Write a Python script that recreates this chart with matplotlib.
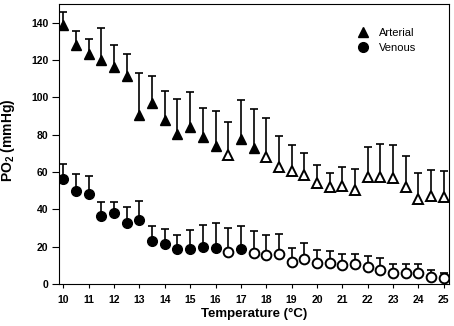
import numpy as np
import matplotlib
matplotlib.use("Agg")
import matplotlib.pyplot as plt
from matplotlib.lines import Line2D

plt.rcParams['font.family'] = ['Liberation Sans', 'DejaVu Sans']
plt.rcParams['mathtext.fontset'] = 'custom'
plt.rcParams['mathtext.rm'] = 'Liberation Sans:bold'
plt.rcParams['mathtext.bf'] = 'Liberation Sans:bold'
plt.rcParams['mathtext.default'] = 'bf'

# ---- data ----
temperature = [10, 10.5, 11, 11.5, 12, 12.5, 13, 13.5, 14, 14.5, 15, 15.5, 16, 16.5,
               17, 17.5, 18, 18.5, 19, 19.5, 20, 20.5, 21, 21.5, 22, 22.5, 23, 23.5,
               24, 24.5, 25]
arterial_mean = [139, 128.2, 123.4, 120.2, 116.2, 111.2, 90.7, 97, 88, 80.5, 84, 78.9,
                 73.8, 69, 77.9, 72.6, 68.1, 62.7, 60.4, 58.5, 54.3, 51.7, 52.4, 50.6,
                 57.4, 57.4, 56.9, 52, 45.5, 47.1, 46.4]
arterial_upper = [145.6, 135.8, 131.2, 137, 128, 123, 113, 111.4, 103.4, 99, 103, 94.3,
                  92.7, 87, 98.5, 93.6, 88.9, 79.3, 74.7, 70.2, 63.7, 59.3, 62.9, 61.5,
                  73.3, 75, 74.6, 68.4, 59.2, 61, 60.4]
arterial_filled = [1, 1, 1, 1, 1, 1, 1, 1, 1, 1, 1, 1, 1, 0, 1, 1, 0, 0, 0, 0, 0, 0, 0,
                   0, 0, 0, 0, 0, 0, 0, 0]
venous_mean = [56, 49.6, 48.1, 36.4, 38.1, 32.8, 34.2, 23.2, 21.2, 18.6, 19, 19.6, 19.4,
               17.3, 18.6, 16.7, 15.5, 15.9, 11.9, 13.2, 11.1, 11.1, 10.2, 10.5, 8.9,
               7.5, 5.7, 5.7, 5.7, 3.9, 3.0]
venous_upper = [64.5, 58.8, 57.6, 44, 44, 41.3, 44.5, 31, 29.2, 26.4, 28.9, 31.6, 32.8,
                30.1, 30.9, 28.5, 26.4, 26.6, 19.3, 21.9, 18.4, 17.8, 15.9, 15.9, 15.1,
                13.7, 10.5, 10.5, 10.7, 7.5, 6]
venous_filled = [1, 1, 1, 1, 1, 1, 1, 1, 1, 1, 1, 1, 1, 0, 1, 0, 0, 0, 0, 0, 0, 0, 0,
                 0, 0, 0, 0, 0, 0, 0, 0]
x_ticks = list(range(10, 26))
y_ticks = [0, 20, 40, 60, 80, 100, 120, 140]

fig = plt.figure(figsize=(4.54, 3.26), dpi=100)
ax = fig.add_axes([59.3 / 454, 1 - 284 / 326, 390 / 454, 280 / 326])

def draw_series(x, mean, upper, filled, marker, ms):
    x = np.asarray(x, float)
    mean = np.asarray(mean, float)
    upper = np.asarray(upper, float)
    filled = np.asarray(filled, bool)
    ax.vlines(x, mean, upper, colors='black', linewidth=1.2, zorder=2)
    ax.plot(x, upper, ls='none', marker='_', ms=5.2, mew=1.2, color='black', zorder=2)
    ax.plot(x[filled], mean[filled], ls='none', marker=marker, ms=ms, mfc='black',
            mec='black', mew=1.0, zorder=3)
    ax.plot(x[~filled], mean[~filled], ls='none', marker=marker, ms=ms, mfc='white',
            mec='black', mew=1.4, zorder=3)

draw_series(temperature, arterial_mean, arterial_upper, arterial_filled, '^', 7.8)
draw_series(temperature, venous_mean, venous_upper, venous_filled, 'o', 7.0)

ax.set_xlim(9.84, 25.22)
ax.set_ylim(0, 150)
ax.set_xticks(x_ticks)
ax.set_yticks(y_ticks)
ax.tick_params(axis='x', direction='out', length=3, width=0.8, pad=5, labelsize=7.5)
ax.tick_params(axis='y', direction='out', length=5, width=0.8, pad=3, labelsize=7.5)
for lab in ax.get_xticklabels() + ax.get_yticklabels():
    lab.set_fontweight('bold')
for s in ax.spines.values():
    s.set_linewidth(0.8)
    s.set_color('black')

ax.set_xlabel('Temperature (°C)', fontsize=9.5, fontweight='bold', labelpad=2)
ax.set_ylabel('PO$_2$ (mmHg)', fontsize=10, fontweight='bold')
ax.yaxis.set_label_coords(-0.108, 0.515)

handles = [Line2D([], [], ls='none', marker='^', ms=7.8, mfc='black', mec='black'),
           Line2D([], [], ls='none', marker='o', ms=7.0, mfc='black', mec='black')]
ax.legend(handles, ['Arterial', 'Venous'], loc='upper left',
          bbox_to_anchor=(0.748, 0.934), frameon=False, fontsize=8,
          handletextpad=0.85, labelspacing=0.45, handlelength=1.2, borderpad=0)

fig.savefig('out.png', dpi=100)
